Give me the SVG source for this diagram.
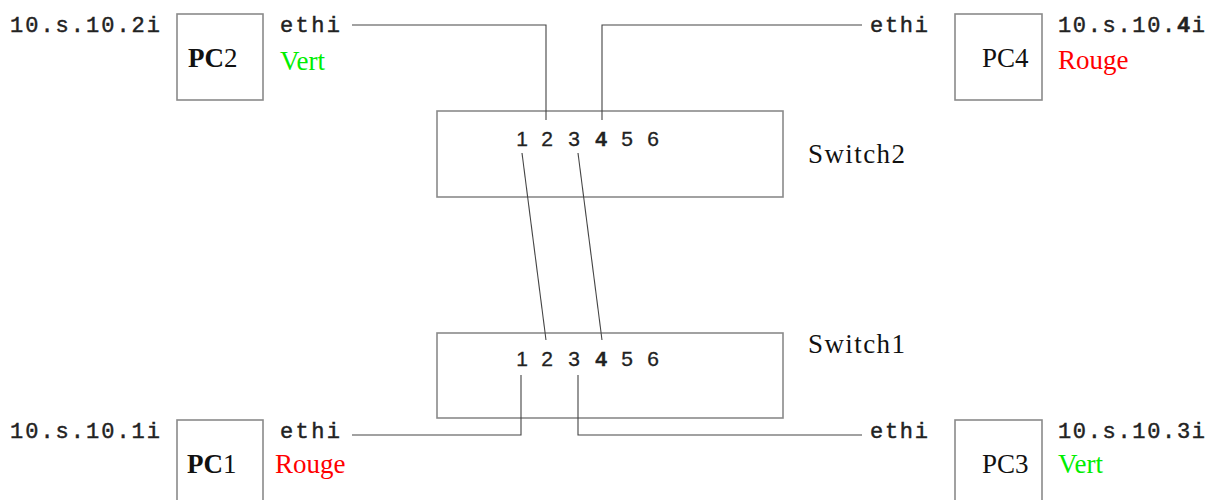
<svg xmlns="http://www.w3.org/2000/svg" width="1217" height="500" viewBox="0 0 1217 500">
  <style>
    .box { fill: none; stroke: #8a8a8a; stroke-width: 1.6; }
    .wire { fill: none; stroke: #444444; stroke-width: 1.1; }
    .mono { font-family: "Liberation Mono", "Courier New", monospace; font-size: 22px; fill: #222222; stroke: #222222; stroke-width: 0.45; }
    .port { font-family: "Liberation Sans", Arial, sans-serif; font-size: 21px; fill: #222222; stroke: #222222; stroke-width: 0.3; text-anchor: middle; }
    .serif { font-family: "Liberation Serif", "Times New Roman", serif; font-size: 27px; fill: #111111; }
    .green { fill: #00ee00; }
    .red { fill: #ff0000; }
    .b { font-weight: bold; }
  </style>
  <rect width="1217" height="500" fill="#ffffff"/>

  <g id="switch2">
    <rect class="box" x="437" y="111" width="346" height="86"/>
    <text class="port" x="522" y="146">1</text>
    <text class="port" x="547" y="146">2</text>
    <text class="port" x="574" y="146">3</text>
    <text class="port b" x="601" y="146">4</text>
    <text class="port" x="627" y="146">5</text>
    <text class="port" x="653" y="146">6</text>
    <text class="serif" x="808" y="163" textLength="97">Switch2</text>
  </g>

  <g id="switch1">
    <rect class="box" x="437" y="333" width="346" height="85"/>
    <text class="port" x="522" y="366">1</text>
    <text class="port" x="547" y="366">2</text>
    <text class="port" x="574" y="366">3</text>
    <text class="port b" x="601" y="366">4</text>
    <text class="port" x="627" y="366">5</text>
    <text class="port" x="653" y="366">6</text>
    <text class="serif" x="808" y="353" textLength="97">Switch1</text>
  </g>

  <g id="pc2">
    <rect class="box" x="177" y="14" width="86" height="86"/>
    <text class="mono" x="10" y="32" textLength="150">10.s.10.2i</text>
    <text class="serif" x="188" y="67"><tspan class="b">PC</tspan>2</text>
    <text class="mono" x="280" y="32" textLength="60">ethi</text>
    <text class="serif green" x="280" y="70">Vert</text>
  </g>

  <g id="pc4">
    <rect class="box" x="955" y="14" width="87" height="86"/>
    <text class="mono" x="870" y="32" textLength="58">ethi</text>
    <text class="serif" x="982" y="67">PC4</text>
    <text class="mono" x="1058" y="32" textLength="147">10.s.10.<tspan class="b">4</tspan>i</text>
    <text class="serif red" x="1058" y="69">Rouge</text>
  </g>

  <g id="pc1">
    <rect class="box" x="177" y="420" width="86" height="90"/>
    <text class="mono" x="10" y="438" textLength="150">10.s.10.1i</text>
    <text class="serif" x="187" y="473"><tspan class="b">PC</tspan>1</text>
    <text class="mono" x="280" y="438" textLength="60">ethi</text>
    <text class="serif red" x="275" y="473">Rouge</text>
  </g>

  <g id="pc3">
    <rect class="box" x="955" y="420" width="87" height="90"/>
    <text class="mono" x="870" y="438" textLength="58">ethi</text>
    <text class="serif" x="982" y="473">PC3</text>
    <text class="mono" x="1058" y="438" textLength="147">10.s.10.3i</text>
    <text class="serif green" x="1058" y="473">Vert</text>
  </g>

  <g id="connectors">
    <polyline class="wire" points="352,25 546,25 546,120"/>
    <polyline class="wire" points="862,25 602,25 602,120"/>
    <line class="wire" x1="522" y1="153" x2="546" y2="340"/>
    <line class="wire" x1="578" y1="153" x2="602" y2="340"/>
    <polyline class="wire" points="521,375 521,435 352,435"/>
    <polyline class="wire" points="578,375 578,435 862,435"/>
  </g>
</svg>
